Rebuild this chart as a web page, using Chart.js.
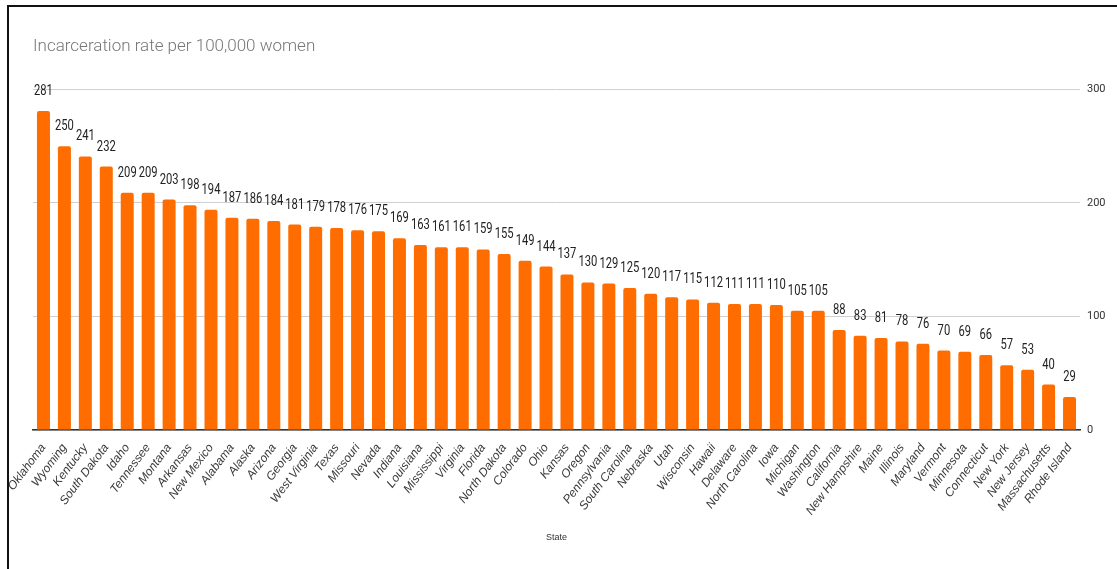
<!DOCTYPE html>
<html>
<head>
<meta charset="utf-8">
<script src="https://cdn.jsdelivr.net/npm/chart.js@4.4.1/dist/chart.umd.min.js"></script>
<style>
  html, body { margin: 0; padding: 0; background: #fff; overflow: hidden; }
  #wrap { position: relative; width: 1117px; height: 569px; }
  #frame { position: absolute; left: 7px; top: 5px; width: 1130px; height: 580px; border-top: 2px solid #111; border-left: 2px solid #111; pointer-events: none; }
</style>
</head>
<body>
<div id="wrap">
  <canvas id="chart" width="1117" height="569"></canvas>
  <div id="frame"></div>
</div>
<script>
  // States, sorted by rate
  const states = [
    'Oklahoma', 'Wyoming', 'Kentucky', 'South Dakota', 'Idaho', 'Tennessee', 'Montana', 'Arkansas',
    'New Mexico', 'Alabama', 'Alaska', 'Arizona', 'Georgia', 'West Virginia', 'Texas', 'Missouri',
    'Nevada', 'Indiana', 'Louisiana', 'Mississippi', 'Virginia', 'Florida', 'North Dakota', 'Colorado',
    'Ohio', 'Kansas', 'Oregon', 'Pennsylvania', 'South Carolina', 'Nebraska', 'Utah', 'Wisconsin',
    'Hawaii', 'Delaware', 'North Carolina', 'Iowa', 'Michigan', 'Washington', 'California',
    'New Hampshire', 'Maine', 'Illinois', 'Maryland', 'Vermont', 'Minnesota', 'Connecticut',
    'New York', 'New Jersey', 'Massachusetts', 'Rhode Island'
  ];

  // Incarceration rate per 100,000 women
  const rates = [
    281, 250, 241, 232, 209, 209, 203, 198, 194, 187, 186, 184, 181, 179, 178, 176,
    175, 169, 163, 161, 161, 159, 155, 149, 144, 137, 130, 129, 125, 120, 117, 115,
    112, 111, 111, 110, 105, 105, 88, 83, 81, 78, 76, 70, 69, 66, 57, 53, 40, 29
  ];

  const yTicks = [0, 100, 200, 300];

  // draws the value above each bar, squeezed horizontally like a condensed face
  const barValues = {
    id: 'barValues',
    afterDatasetsDraw(chart) {
      const ctx = chart.ctx;
      const meta = chart.getDatasetMeta(0);
      ctx.save();
      ctx.font = '14px Roboto, sans-serif';
      ctx.fillStyle = '#222';
      ctx.textAlign = 'center';
      ctx.textBaseline = 'alphabetic';
      meta.data.forEach((bar, i) => {
        ctx.save();
        ctx.translate(bar.x, bar.y - 16);
        ctx.scale(0.8, 1);
        ctx.fillText(String(rates[i]), 0, 0);
        ctx.restore();
      });
      ctx.restore();
    }
  };

  new Chart(document.getElementById('chart'), {
    type: 'bar',
    data: {
      labels: states,
      datasets: [{
        label: 'Incarceration rate per 100,000 women',
        data: rates,
        backgroundColor: '#ff6d01',
        borderRadius: { topLeft: 2, topRight: 2 },
        borderSkipped: 'bottom',
        categoryPercentage: 1,
        barPercentage: 0.62
      }]
    },
    options: {
      responsive: false,
      animation: false,
      layout: { padding: { left: 33, right: 0, top: 0, bottom: 0 } },
      plugins: {
        legend: { display: false },
        tooltip: { enabled: false },
        title: {
          display: true,
          text: 'Incarceration rate per 100,000 women',
          align: 'start',
          color: '#777',
          font: { family: 'Roboto', size: 17, weight: '300' },
          padding: { top: 37, bottom: 32 }
        }
      },
      scales: {
        x: {
          grid: { display: false },
          border: { display: true, color: '#333', width: 1.5 },
          ticks: {
            autoSkip: false,
            maxRotation: 53,
            minRotation: 53,
            padding: 3,
            color: '#3a3a3a',
            font: { family: '"Liberation Sans", Arial, sans-serif', size: 12, style: 'italic' }
          },
          title: {
            display: true,
            text: 'State',
            color: '#333',
            font: { family: '"Liberation Sans", Arial, sans-serif', size: 9 },
            padding: { top: 0, bottom: 26 }
          },
          afterFit(scale) { scale.height = 139; }
        },
        y: {
          position: 'right',
          min: 0,
          max: 300,
          afterBuildTicks(scale) { scale.ticks = yTicks.map(v => ({ value: v })); },
          grid: { color: '#d0d0d0', lineWidth: 1, drawTicks: false },
          border: { display: false },
          ticks: {
            padding: 7,
            color: '#333',
            font: { family: 'Roboto', size: 11 }
          },
          afterFit(scale) { scale.width = 37; }
        }
      }
    },
    plugins: [barValues]
  });
</script>
</body>
</html>
